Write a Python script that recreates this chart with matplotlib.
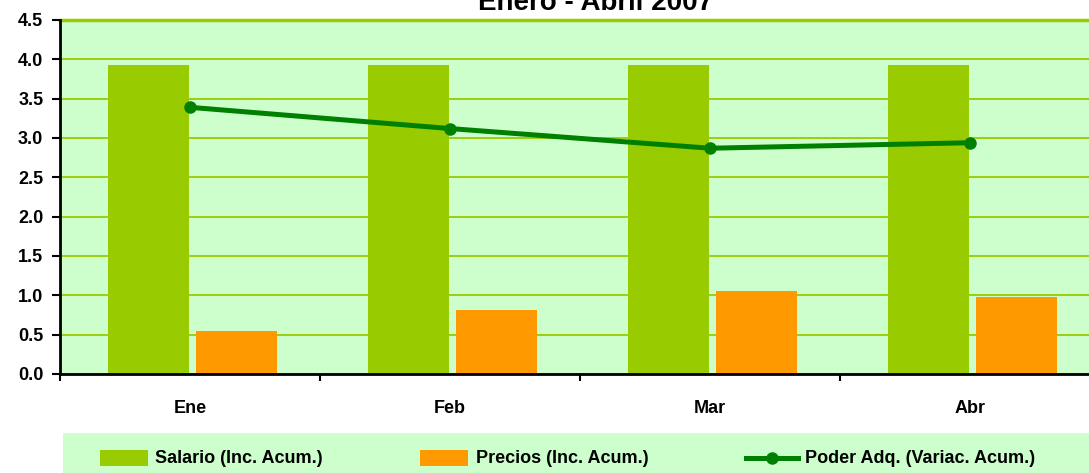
import matplotlib.pyplot as plt
import numpy as np
from matplotlib.ticker import MultipleLocator, FixedLocator
from matplotlib.patches import Rectangle
from matplotlib.lines import Line2D

# data
meses = ["Ene", "Feb", "Mar", "Abr"]
salario = [3.93, 3.93, 3.93, 3.93]
precios = [0.55, 0.81, 1.05, 0.98]
poder = [3.39, 3.12, 2.87, 2.94]

plt.rcParams['font.family'] = ['Liberation Sans', 'DejaVu Sans']
plt.rcParams['font.weight'] = 'bold'

W, H = 1089, 473
fig = plt.figure(figsize=(W / 100, H / 100), dpi=100)
# plot area runs a bit past the right edge of the picture
ax = fig.add_axes([60 / W, 1 - 374 / H, 1040 / W, 354 / H])
ax.set_facecolor('#ccffcc')

verde = '#99cc00'
naranja = '#ff9900'
linea = '#008000'

x = np.arange(len(meses))
cat = 260.0
w = 81 / cat
ax.bar(x - 41.5 / cat, salario, width=w, color=verde, zorder=2)
ax.bar(x + 46.5 / cat, precios, width=w, color=naranja, zorder=2)
ax.plot(x, poder, color=linea, lw=3.6, marker='o', ms=8, zorder=3)

ax.set_xlim(-0.5, 3.5)
ax.set_ylim(0, 4.5)
ax.yaxis.set_major_locator(MultipleLocator(0.5))
ax.yaxis.set_major_formatter(plt.FormatStrFormatter('%.1f'))
ax.grid(axis='y', color=verde, lw=1.3, zorder=1)
ax.axhline(4.5, color=verde, lw=2.5, zorder=1, clip_on=False)

ax.xaxis.set_major_locator(FixedLocator([-0.5, 0.5, 1.5, 2.5, 3.5]))
ax.xaxis.set_major_formatter(plt.NullFormatter())
ax.xaxis.set_minor_locator(FixedLocator(x))
ax.set_xticklabels(meses, minor=True)
ax.tick_params(axis='x', which='minor', length=0, pad=19, labelsize=13)
ax.tick_params(axis='x', which='major', length=5, width=1.5, direction='out')
ax.tick_params(axis='y', length=6, width=1.5, direction='out', labelsize=13, pad=6)
for s in ['top', 'right']:
    ax.spines[s].set_visible(False)
ax.spines['left'].set_linewidth(2)
ax.spines['bottom'].set_linewidth(2)

fig.text(596 / W, 1 - 10 / H, 'Enero - Abril 2007', ha='center', va='baseline',
         fontsize=20, fontweight='bold')

# legend box drawn by hand to match the original layout
fig.patches.append(Rectangle((63 / W, 0), 1 - 63 / W, 40 / H, transform=fig.transFigure,
                             facecolor='#ccffcc', edgecolor='none', zorder=0))
ly = 1 - 458 / H
fig.patches.append(Rectangle((100 / W, 1 - 466 / H), 48 / W, 16 / H,
                             transform=fig.transFigure, facecolor=verde, edgecolor='none'))
fig.patches.append(Rectangle((420 / W, 1 - 466 / H), 48 / W, 16 / H,
                             transform=fig.transFigure, facecolor=naranja, edgecolor='none'))
fig.lines.append(Line2D([746 / W, 798 / W], [ly, ly], transform=fig.transFigure,
                        color=linea, lw=3.6))
fig.lines.append(Line2D([772 / W], [ly], transform=fig.transFigure, color=linea,
                        marker='o', ms=8))
etiquetas = ['Salario (Inc. Acum.)', 'Precios (Inc. Acum.)', 'Poder Adq. (Variac. Acum.)']
for xt, t in zip([155, 476, 805], etiquetas):
    fig.text(xt / W, ly, t, ha='left', va='center', fontsize=13, fontweight='bold')

fig.savefig('out.png', dpi=100)
